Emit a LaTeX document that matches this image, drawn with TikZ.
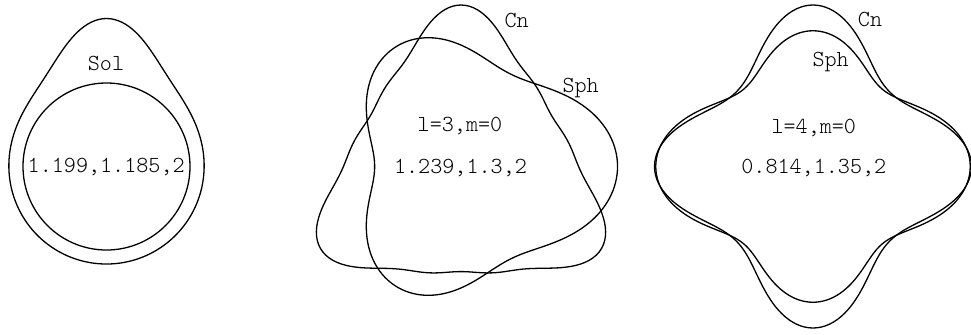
\documentclass[tikz,border=0pt]{standalone}
\usepackage{fontspec}
\setmonofont{lmmonolt10-regular.otf}
\definecolor{cink}{RGB}{0,0,0}

\begin{document}
\begin{tikzpicture}[x=0.5pt, y=-0.5pt,
  font=\ttfamily\fontsize{11.5}{13}\selectfont,
  curve/.style={draw=cink, line width=0.65pt, line join=round},
  lbl/.style={anchor=base, inner sep=0pt, text=cink},
  declare function={
    solr(\t)=97.5+202*exp(-2*abs(\t)/24.8)/(1+exp(-2*abs(\t)/24.8))^2;
    cnthree(\t)=125.6+26*cos(3*\t)+7.7*cos(6*\t)+3*cos(9*\t);
    sphthree(\t)=120.85+13.1*cos(\t)+22*cos(3*\t)+0.6*cos(4*\t);
    cnfour(\t)=131.5+26.5*cos(4*\t)+2*cos(8*\t)+1.5*cos(2*\t);
    sphfour(\t)=125.5+21*cos(4*\t)-10.75*cos(2*\t);
  },
]
\useasboundingbox (0,0) rectangle (971,334);
% --- soliton against the sphere ---------------------------------------
\draw[curve] (106.5,166.5) circle[radius=83.5];
\draw[curve] plot[domain=-180:180, samples=241]
  ({106.5+solr(\x)*sin(\x)}, {166.5-solr(\x)*cos(\x)}) -- cycle;
\node[lbl] (sol) at (106,70) {Sol};
\node[lbl] (solval) at (106.2,172.7) {1.199,1.185,2};
% --- l=3 mode (Cn points up, Sph points right) ------------------------
\draw[curve] plot[domain=0:360, samples=241]
  ({461+cnthree(\x)*sin(\x)}, {167.3-cnthree(\x)*cos(\x)}) -- cycle;
\draw[curve] plot[domain=0:360, samples=241]
  ({461+sphthree(\x)*cos(\x)}, {166.5-sphthree(\x)*sin(\x)}) -- cycle;
\node[lbl] (cnA) at (516.7,27.3) {Cn};
\node[lbl] (sphA) at (580.7,92.7) {Sph};
\node[lbl] (modeA) at (460,131.7) {l=3,m=0};
\node[lbl] (valA) at (460.5,173.3) {1.239,1.3,2};
% --- l=4 mode ----------------------------------------------------------
\draw[curve] plot[domain=0:360, samples=241]
  ({813+cnfour(\x)*sin(\x)}, {166.5-cnfour(\x)*cos(\x)}) -- cycle;
\draw[curve] plot[domain=0:360, samples=241]
  ({813+sphfour(\x)*sin(\x)}, {166.5-sphfour(\x)*cos(\x)}) -- cycle;
\node[lbl] (cnB) at (870,26.7) {Cn};
\node[lbl] (sphB) at (830.7,66.7) {Sph};
\node[lbl] (modeB) at (813.8,133.3) {l=4,m=0};
\node[lbl] (valB) at (813.8,173.3) {0.814,1.35,2};
\end{tikzpicture}
\end{document}
